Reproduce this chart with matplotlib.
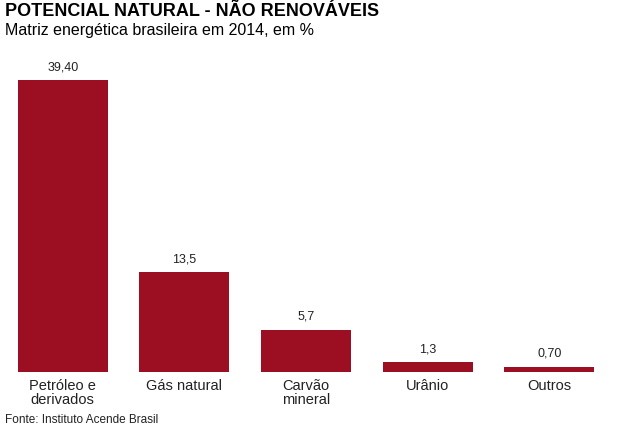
import matplotlib.pyplot as plt

plt.rcParams['font.family'] = ['Liberation Sans', 'DejaVu Sans']

categories = ['Petróleo e\nderivados', 'Gás natural', 'Carvão\nmineral', 'Urânio', 'Outros']
values = [39.40, 13.5, 5.7, 1.3, 0.70]
value_labels = ['39,40', '13,5', '5,7', '1,3', '0,70']

bar_color = '#9c0f22'

fig = plt.figure(figsize=(6.18, 4.30), dpi=100)
ax = fig.add_axes([2 / 618, 58 / 430, 608 / 618, 296.4 / 430])

x = range(len(categories))
bars = ax.bar(x, values, width=0.74, color=bar_color)
for bar, lab in zip(bars, value_labels):
    ax.annotate(lab, (bar.get_x() + bar.get_width() / 2, bar.get_height()),
                xytext=(0, 5), textcoords='offset points',
                ha='center', va='bottom', fontsize=9, color='#222222')

ax.set_xlim(-0.5, len(categories) - 0.5)
ax.set_ylim(0, 40)
ax.set_xticks(list(x))
ax.set_xticklabels(categories, fontsize=10.5, color='#222222', linespacing=1.05)
ax.tick_params(axis='x', length=0, pad=5)
ax.set_yticks([])
for s in ax.spines.values():
    s.set_visible(False)

fig.text(5 / 618, 1 - 3 / 430, 'POTENCIAL NATURAL - NÃO RENOVÁVEIS',
         fontsize=13, fontweight='bold', va='top', ha='left', color='black')
fig.text(5 / 618, 1 - 23 / 430, 'Matriz energética brasileira em 2014, em %',
         fontsize=11.5, va='top', ha='left', color='black')
fig.text(5 / 618, 1 - 414 / 430, 'Fonte: Instituto Acende Brasil',
         fontsize=8.5, va='top', ha='left', color='#222222')

fig.savefig('out.png', dpi=100)
